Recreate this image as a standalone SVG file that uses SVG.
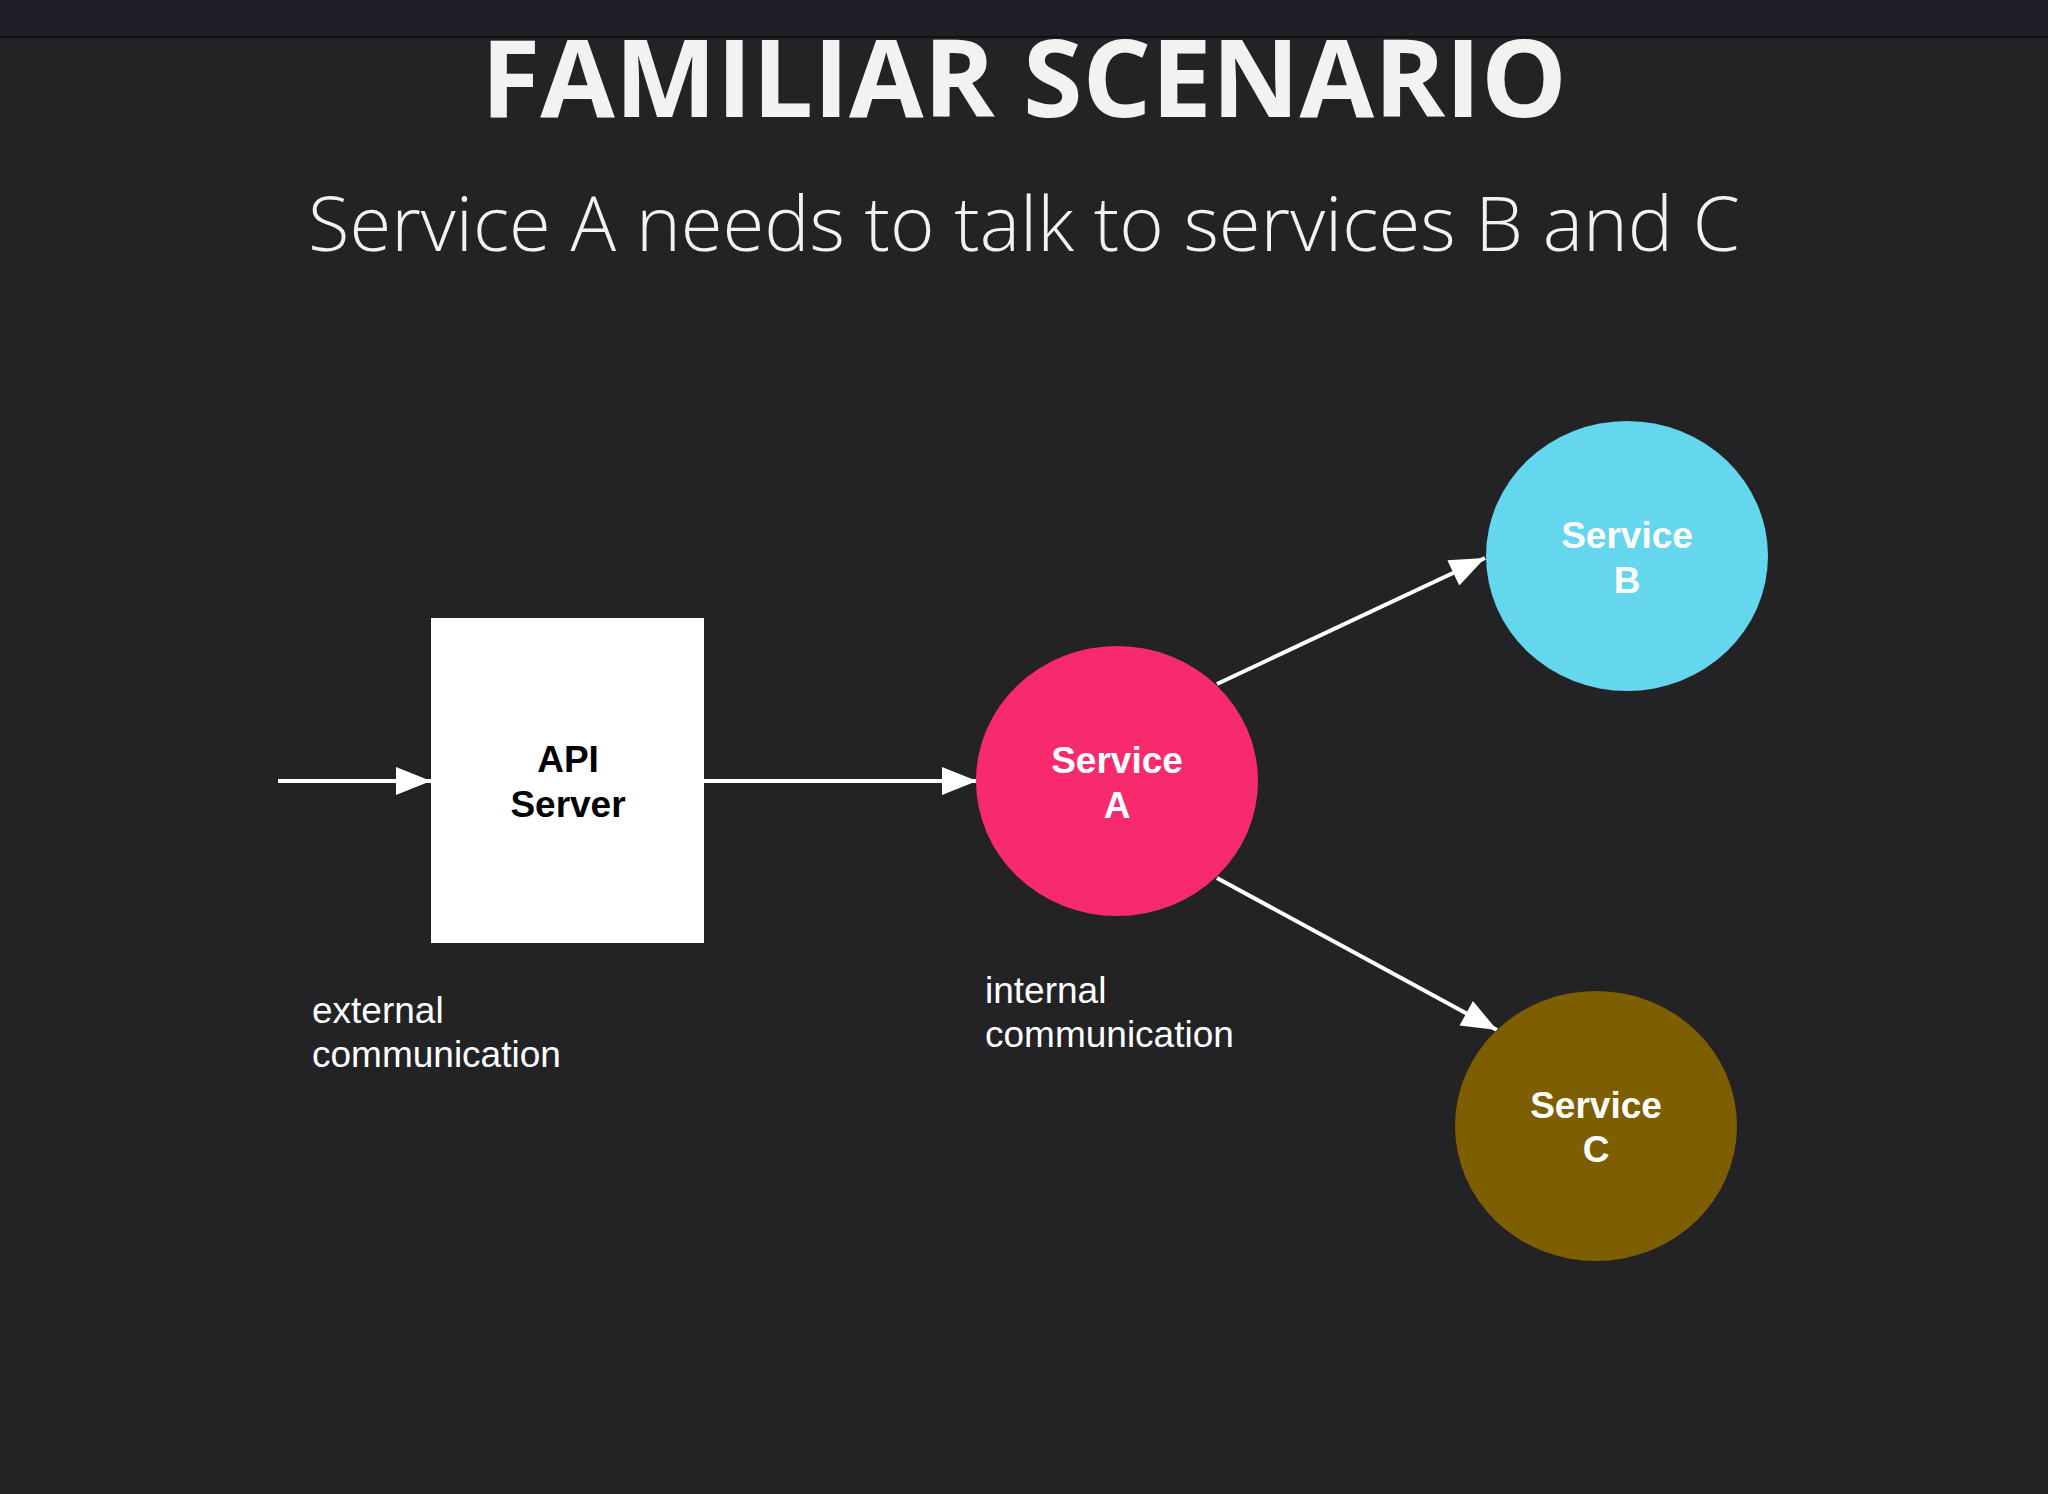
<svg xmlns="http://www.w3.org/2000/svg" width="2048" height="1494" viewBox="0 0 2048 1494">
<style>
.lbl{font-family:"Liberation Sans",Arial,sans-serif;font-size:37px;fill:#ffffff}
.nt{font-family:"Liberation Sans",Arial,sans-serif;font-size:37px;font-weight:bold;text-anchor:middle}
.con{stroke:#ffffff;stroke-width:4;fill:none;marker-end:url(#ah)}
</style>
<defs><marker id="ah" markerWidth="10" markerHeight="8" refX="10" refY="4" orient="auto" markerUnits="userSpaceOnUse" viewBox="0 0 10 8"><path d="M0,0 L10,4 L0,8 z" fill="#ffffff"/></marker>
<marker id="ah2" viewBox="0 0 10 8" refX="10" refY="4" markerWidth="40" markerHeight="28" orient="auto" markerUnits="userSpaceOnUse"><path d="M0,0 L10,4 L0,8 z" fill="#ffffff"/></marker></defs>
<rect width="2048" height="1494" fill="#232326"/>
<rect width="2048" height="37" fill="#1d1e26"/>
<line x1="0" y1="37" x2="2048" y2="37" stroke="#111" stroke-width="2"/>
<text x="1024" y="117" text-anchor="middle" font-family="'Open Sans','Liberation Sans',sans-serif" font-weight="bold" font-size="108" fill="#f2f2f2">FAMILIAR SCENARIO</text>
<text x="1024" y="251" text-anchor="middle" font-family="'Open Sans','Liberation Sans',sans-serif" font-weight="300" font-size="76" fill="#f2f2f2">Service A needs to talk to services B and C</text>
<g id="connectors" stroke="#ffffff" stroke-width="4" fill="none">
<path d="M278,781 L431,781" marker-end="url(#ah2)"/>
<path d="M704,781 L977,781" marker-end="url(#ah2)"/>
<path d="M1217,684 L1485,558" marker-end="url(#ah2)"/>
<path d="M1217,878 L1497,1030" marker-end="url(#ah2)"/>
</g>
<g id="api"><rect x="431" y="618" width="273" height="325" fill="#ffffff"/>
<text class="nt" x="568" y="772" fill="#000">API</text><text class="nt" x="568" y="817" fill="#000">Server</text></g>
<g id="serviceA"><ellipse cx="1117" cy="781" rx="141" ry="135" fill="#f72a6e"/>
<text class="nt" x="1117" y="773" fill="#fff">Service</text><text class="nt" x="1117" y="818" fill="#fff">A</text></g>
<g id="serviceB"><ellipse cx="1627" cy="556" rx="141" ry="135" fill="#64d6ee"/>
<text class="nt" x="1627" y="548" fill="#fff">Service</text><text class="nt" x="1627" y="593" fill="#fff">B</text></g>
<g id="serviceC"><ellipse cx="1596" cy="1126" rx="141" ry="135" fill="#7d5e00"/>
<text class="nt" x="1596" y="1118" fill="#fff">Service</text><text class="nt" x="1596" y="1162" fill="#fff">C</text></g>
<g id="labels">
<text class="lbl" x="312" y="1023">external</text><text class="lbl" x="312" y="1067">communication</text>
<text class="lbl" x="985" y="1003">internal</text><text class="lbl" x="985" y="1047">communication</text>
</g>
</svg>
